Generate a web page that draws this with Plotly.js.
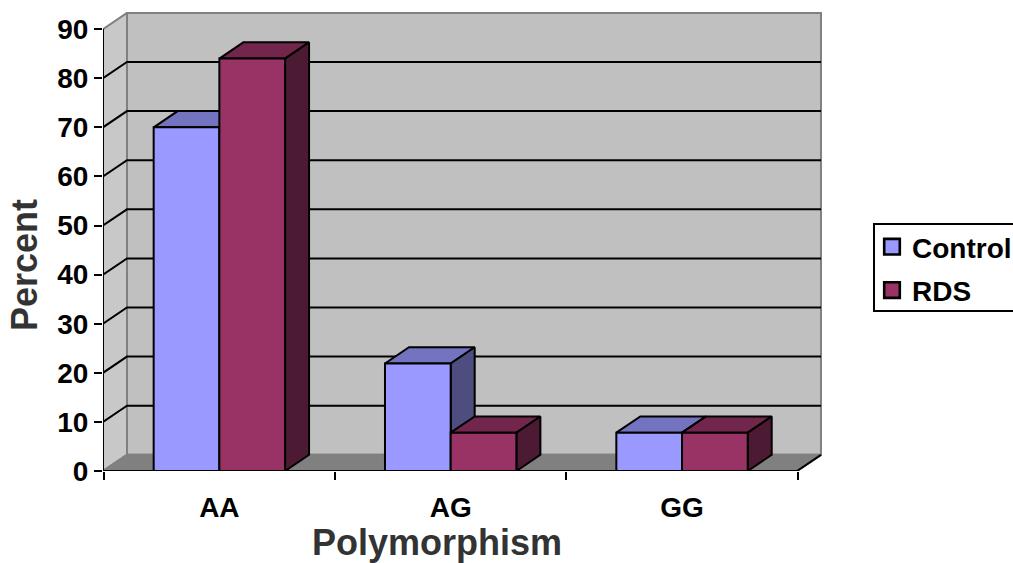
<!DOCTYPE html>
<html><head><meta charset="utf-8">
<script src="https://cdn.plot.ly/plotly-3.0.1.min.js"></script>
<style>html,body{margin:0;padding:0;background:#fff;overflow:hidden}#c{width:1013px;height:563px}</style>
</head><body><div id="c"></div>
<script>
const categories = ['AA','AG','GG'];
const controlValues = [70, 21.9, 7.8];
const rdsValues = [84, 7.8, 7.8];
const yTicks = [0,10,20,30,40,50,60,70,80,90];
const FONT = 'Liberation Sans, Arial, sans-serif';

// oblique depth of the 3-D box, in data units of the base axes
const DX = 0.1037, DY = 3.3, XEND = 3, YEND = 90;
const XMAX = 3.1124, YMAX = 93.89, BAR = 0.284, NUDGE = 0.003;

function poly(points, fill, line, width){
  const x=[],y=[];
  points.forEach(p=>{ if(p){x.push(p[0]);y.push(p[1]);} else {x.push(null);y.push(null);} });
  return {type:'scatter',mode:'lines',x,y,fill:fill?'toself':'none',fillcolor:fill||undefined,
    line:{color:line,width:width,simplify:false},hoverinfo:'skip',showlegend:false,cliponaxis:false,xaxis:'x',yaxis:'y'};
}
function boxFaces(values, offset, topColor, sideColor){
  const top=[], side=[];
  values.forEach((v,i)=>{
    const a=i+0.5+NUDGE+offset*BAR, b=a+BAR;
    top.push([a,v],[a+DX,v+DY],[b+DX,v+DY],[b,v],[a,v],null);
    side.push([b,0],[b+DX,DY],[b+DX,v+DY],[b,v],[b,0],null);
  });
  return [poly(top,topColor,'#000',2),poly(side,sideColor,'#000',2)];
}

const gridPts=[];
yTicks.filter(v=>v>0&&v<YEND).forEach(v=>{gridPts.push([0,v],[DX,v+DY],[XEND+DX,v+DY],null);});

const traces=[
  poly([[DX,DY],[XEND+DX,DY],[XEND+DX,YEND+DY],[DX,YEND+DY],[DX,DY]],'#C0C0C0','#808080',2),
  poly([[0,0],[DX,DY],[DX,YEND+DY],[0,YEND],[0,0]],'#C8C8C8','#808080',2),
  poly([[0,0],[XEND,0],[XEND+DX,DY],[DX,DY],[0,0]],'#808080','#808080',2),
  poly(gridPts,null,'#000',2),
  poly([[XEND,0],[XEND+DX,DY]],null,'#000',2),
  poly([[0,YEND],[0,0],[XEND,0]],null,'#000',2),
  ...boxFaces(controlValues,-1,'#7373BF','#4D4D80'),
  ...boxFaces(rdsValues,0,'#73264C','#4D1A33'),
  {type:'bar',name:'Control',x:categories,y:controlValues,xaxis:'x2',yaxis:'y2',
   marker:{color:'#9999FF',line:{color:'#000',width:2}},hoverinfo:'skip'},
  {type:'bar',name:'RDS',x:categories,y:rdsValues,xaxis:'x2',yaxis:'y2',
   marker:{color:'#993366',line:{color:'#000',width:2}},hoverinfo:'skip'}
];

const layout={
  width:1013,height:563,autosize:false,paper_bgcolor:'#fff',plot_bgcolor:'rgba(0,0,0,0)',
  font:{family:FONT,color:'#000'},
  margin:{l:103,r:190,t:10,b:92,pad:0,autoexpand:false},
  barmode:'group',bargap:0.432,bargroupgap:0,
  xaxis:{type:'linear',range:[0,XMAX],visible:false,fixedrange:true},
  yaxis:{type:'linear',range:[0,YMAX],tickmode:'array',tickvals:yTicks,ticks:'outside',ticklen:8,tickwidth:2,tickcolor:'#000',
    showgrid:false,zeroline:false,showline:false,tickfont:{family:FONT,size:28,weight:700,color:'#000'},fixedrange:true},
  xaxis2:{type:'category',categoryorder:'array',categoryarray:categories,range:[-0.5-NUDGE,XMAX-0.5-NUDGE],overlaying:'x',anchor:'y2',side:'bottom',
    tickson:'boundaries',ticks:'outside',ticklen:8,tickwidth:2,tickcolor:'#000',ticklabelstandoff:17,
    showgrid:false,zeroline:false,showline:false,tickfont:{family:FONT,size:28,weight:700,color:'#000'},fixedrange:true},
  yaxis2:{type:'linear',range:[0,YMAX],overlaying:'y',anchor:'x2',visible:false,fixedrange:true},
  legend:{x:(873-103)/720,xanchor:'left',y:(471-223)/461,yanchor:'top',bordercolor:'#000',borderwidth:2,bgcolor:'#fff',
    font:{family:FONT,size:28,weight:700,color:'#000'},traceorder:'normal'},
  annotations:[
    {text:'Polymorphism',xref:'paper',yref:'paper',x:(437-103)/720,y:(471-542.5)/461,xanchor:'center',yanchor:'middle',showarrow:false,
     font:{family:FONT,size:36,weight:700,color:'#333'}},
    {text:'Percent',xref:'paper',yref:'paper',x:(24-103)/720,y:(471-265)/461,xanchor:'center',yanchor:'middle',textangle:-90,showarrow:false,
     font:{family:FONT,size:36,weight:700,color:'#333'}}
  ]
};
Plotly.newPlot('c',traces,layout,{staticPlot:true,displayModeBar:false}).then(gd=>{
  gd.querySelectorAll('.legend .legendpoints path').forEach(p=>{
    const t=p.getAttribute('transform')||'';
    p.setAttribute('transform',t+' scale(1.3)');
  });
  gd.querySelectorAll('.legend .traces').forEach((g,i)=>{
    const m=/translate\(([-\d.]+),\s*([-\d.]+)\)/.exec(g.getAttribute('transform')||'');
    if(m) g.setAttribute('transform','translate('+(parseFloat(m[1])-3)+','+(parseFloat(m[2])+(i?1:-3))+')');
  });
  const bg=gd.querySelector('.legend .bg');
  if(bg) bg.setAttribute('height',parseFloat(bg.getAttribute('height'))-4);
});
</script></body></html>
